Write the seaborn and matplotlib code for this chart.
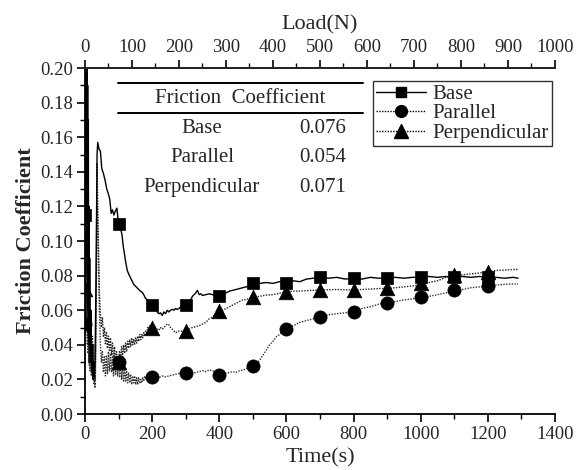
import numpy as np
import pandas as pd
import matplotlib
matplotlib.use("Agg")
import matplotlib.pyplot as plt
from matplotlib.lines import Line2D
from matplotlib.ticker import MultipleLocator, FormatStrFormatter
import seaborn as sns

# ---------------- data ----------------
base_t = [0, 1, 2, 3, 4, 5, 6, 7, 8, 9, 10, 11, 12, 13, 14, 16, 18, 20, 22, 24, 26, 28, 30, 33, 36, 38,
          42, 46, 50, 55, 60, 65, 70, 74, 78, 82, 86, 90, 95,
          100, 105, 110, 114, 118, 122, 126, 130, 135, 140, 145, 150, 155, 160, 165, 170, 175, 180, 185, 190, 195,
          200, 205, 210, 215, 220, 225, 230, 235, 240, 245, 250, 255, 260, 265, 270, 275, 280, 285, 290, 295,
          300, 310, 315, 320, 325, 330, 335, 340, 345, 350, 360, 370, 380, 390,
          400, 410, 420, 430, 440, 450, 460, 470, 480, 490, 500, 520, 540, 560, 580, 600, 620, 640, 660, 680,
          700, 725, 750, 775, 800, 825, 850, 875, 900, 925, 950, 975, 1000, 1025, 1050, 1075, 1100, 1125,
          1150, 1175, 1200, 1225, 1250, 1275, 1290]
base_v = [0.115, 0.20, 0.20, 0.12, 0.20, 0.09, 0.20, 0.08, 0.19, 0.06, 0.17, 0.05, 0.12, 0.04, 0.09,
          0.03, 0.06, 0.025, 0.04, 0.02, 0.03, 0.022, 0.03, 0.08, 0.150, 0.157,
          0.153, 0.152, 0.142, 0.139, 0.135, 0.130, 0.127, 0.124, 0.116, 0.118, 0.115, 0.117, 0.119,
          0.110, 0.108, 0.104, 0.097, 0.092, 0.087, 0.083, 0.081, 0.079, 0.077, 0.075, 0.074, 0.073, 0.072,
          0.071, 0.0705, 0.069, 0.067, 0.066, 0.064, 0.063,
          0.063, 0.062, 0.061, 0.059, 0.058, 0.0585, 0.057, 0.059, 0.058, 0.060, 0.059, 0.060, 0.0605, 0.060,
          0.061, 0.0605, 0.061, 0.062, 0.0615, 0.062,
          0.063, 0.064, 0.066, 0.068, 0.069, 0.070, 0.0715, 0.069, 0.0695, 0.0685, 0.069, 0.0695, 0.069, 0.0685,
          0.068, 0.069, 0.070, 0.071, 0.0715, 0.072, 0.0725, 0.073, 0.0735, 0.074, 0.0755, 0.0755, 0.076,
          0.0755, 0.0765, 0.076, 0.077, 0.0765, 0.078, 0.0785,
          0.079, 0.0785, 0.079, 0.078, 0.0785, 0.078, 0.079, 0.0785, 0.0785, 0.079, 0.0785, 0.079, 0.079,
          0.0795, 0.079, 0.0795, 0.079, 0.0795, 0.079, 0.0795, 0.079, 0.079, 0.0785, 0.079, 0.0785]

par_t = [0, 1, 2, 3, 4, 5, 6, 7, 8, 9, 10, 11, 12, 13, 14, 15, 17, 19, 21, 23, 25, 27, 29, 31, 33, 35, 37,
         40, 43, 46, 49, 52, 55, 58, 61, 64, 67, 70, 73, 76, 79, 82, 85, 88, 91, 94, 97, 100, 103, 106, 109,
         112, 115, 118, 121, 124, 127, 130, 133, 136, 139, 142, 145, 148, 151, 154, 157, 160, 163, 166, 169,
         172, 175, 178, 181, 184, 187, 190, 193, 196,
         200, 210, 220, 230, 240, 250, 260, 270, 280, 290, 300, 310,
         320, 330, 340, 350, 360, 370, 380, 390, 400, 410, 420, 430, 440, 450, 460, 470, 480, 490, 500, 510,
         520, 530, 540, 550, 560, 570, 580, 590, 600, 620, 640, 660, 680, 700, 725, 750, 775, 800, 825, 850,
         875, 900, 925, 950, 975, 1000, 1025, 1050, 1075, 1100, 1125, 1150, 1175, 1200, 1225, 1250, 1275, 1290]
par_v = [0.052, 0.09, 0.12, 0.07, 0.11, 0.05, 0.09, 0.04, 0.08, 0.035, 0.07, 0.03, 0.06, 0.028, 0.05, 0.025,
         0.04, 0.022, 0.035, 0.02, 0.03, 0.017, 0.022, 0.02, 0.05, 0.10, 0.12,
         0.09, 0.06, 0.04, 0.030, 0.036, 0.024, 0.033, 0.022, 0.034, 0.023, 0.036, 0.025, 0.035, 0.024, 0.033,
         0.022, 0.034, 0.023, 0.031, 0.022, 0.030, 0.021, 0.030, 0.020, 0.028, 0.019, 0.027, 0.019, 0.025,
         0.018, 0.024, 0.018, 0.023, 0.017, 0.022, 0.018, 0.022, 0.017, 0.021, 0.017, 0.021, 0.0175, 0.020,
         0.018, 0.021, 0.019, 0.022, 0.020, 0.022, 0.021, 0.0225, 0.021, 0.022,
         0.0216, 0.0215, 0.021, 0.022,
         0.0215, 0.022, 0.0225, 0.023, 0.0235, 0.023, 0.0235, 0.024, 0.0235, 0.024, 0.0245, 0.025, 0.0245,
         0.0255, 0.025, 0.024, 0.0225, 0.023, 0.0235, 0.024, 0.0245, 0.024, 0.025, 0.0255, 0.026, 0.027,
         0.0277, 0.029, 0.031, 0.034, 0.037, 0.040, 0.042, 0.0447, 0.046, 0.048, 0.049, 0.051, 0.053, 0.054,
         0.055, 0.0563, 0.0573, 0.058, 0.0585, 0.0591, 0.061, 0.062, 0.0635, 0.0644, 0.065, 0.066, 0.0665,
         0.0674, 0.068, 0.069, 0.070, 0.0717, 0.072, 0.073, 0.0735, 0.0740, 0.0745, 0.075, 0.0752, 0.0751]

perp_t = [0, 1, 2, 3, 4, 5, 6, 8, 10, 12, 14, 16, 18, 20, 22, 24, 26, 28, 30, 32, 34, 36, 38,
          40, 43, 46, 49, 52, 55, 58, 61, 64, 67, 70, 73, 76, 79, 82, 85, 88, 91, 94, 97, 100, 103, 106, 109,
          112, 115, 118, 121, 124, 127, 130, 133, 136, 139, 142, 145, 148, 151, 154, 157, 160, 163, 166, 169,
          172, 175, 178, 181, 184, 187, 190, 193, 196,
          200, 205, 210, 215, 220, 225, 230, 235, 240, 245, 250, 255, 260, 265, 270, 275,
          280, 290, 300, 310, 320, 330, 340, 350, 360, 370, 380, 390, 400, 410, 420, 430, 440, 450, 460, 470,
          480, 490, 500, 520, 540, 560, 580, 600, 625, 650, 675, 700, 725, 750, 775, 800, 825, 850, 875, 900,
          925, 950, 975, 1000, 1025, 1050, 1075, 1100, 1125, 1150, 1175, 1200, 1225, 1250, 1275, 1290]
perp_v = [0.072, 0.05, 0.08, 0.055, 0.075, 0.05, 0.07, 0.045, 0.065, 0.04, 0.06, 0.035, 0.05, 0.03, 0.045,
          0.025, 0.04, 0.02, 0.015, 0.04, 0.09, 0.145, 0.12,
          0.10, 0.07, 0.058, 0.05, 0.056, 0.045, 0.050, 0.040, 0.047, 0.038, 0.045, 0.036, 0.044, 0.034, 0.041,
          0.031, 0.039, 0.029, 0.036, 0.028, 0.030, 0.036, 0.031, 0.039, 0.033, 0.040, 0.035, 0.041, 0.036,
          0.042, 0.038, 0.043, 0.039, 0.044, 0.040, 0.043, 0.040, 0.044, 0.041, 0.045, 0.042, 0.046, 0.043,
          0.046, 0.044, 0.047, 0.045, 0.048, 0.047, 0.050, 0.049, 0.051, 0.050,
          0.0495, 0.051, 0.050, 0.049, 0.0485, 0.050, 0.049,
          0.050, 0.051, 0.052, 0.0515, 0.050, 0.049, 0.048, 0.047, 0.0475, 0.048, 0.0478, 0.0482, 0.049,
          0.050, 0.0505, 0.051, 0.052, 0.053, 0.055, 0.056, 0.058, 0.0597, 0.060, 0.061, 0.062, 0.063, 0.064,
          0.065, 0.066, 0.066, 0.067, 0.0674, 0.068, 0.0688, 0.069, 0.0698, 0.0707, 0.071, 0.0712, 0.0715,
          0.0717, 0.0718, 0.072, 0.0718, 0.0717, 0.072, 0.0722, 0.0725, 0.0727, 0.073, 0.0735, 0.074, 0.0745,
          0.076, 0.077, 0.079, 0.080, 0.0805, 0.081, 0.0815, 0.082, 0.083, 0.0832, 0.0835, 0.0836]

mark_t = [0, 100, 200, 300, 400, 500, 600, 700, 800, 900, 1000, 1100, 1200]
base_m = [0.115, 0.110, 0.063, 0.063, 0.068, 0.0755, 0.076, 0.079, 0.0785, 0.0785, 0.079, 0.079, 0.079]
par_m = [0.052, 0.030, 0.0216, 0.0235, 0.0225, 0.0277, 0.049, 0.0563, 0.0591, 0.0644, 0.0674, 0.0717, 0.0740]
perp_m = [0.072, 0.030, 0.0495, 0.0482, 0.0597, 0.0674, 0.0707, 0.0717, 0.0717, 0.0727, 0.076, 0.0803, 0.082]

series = ["Base", "Parallel", "Perpendicular"]
avg_cof = ["0.076", "0.054", "0.071"]
load_ticks = [0, 100, 200, 300, 400, 500, 600, 700, 800, 900, 1000]

# ---------------- style ----------------
sns.set_style("ticks")
plt.rcParams["font.family"] = ["Liberation Serif", "DejaVu Serif"]

fig = plt.figure(figsize=(5.84, 4.70), dpi=100)
ax = fig.add_axes([0.1455, 0.1191, 0.8048, 0.7362])

styles = {
    "Base": dict(ls="-", lw=1.0, color="black", marker="s", ms=8.5),
    "Parallel": dict(ls=(0, (1, 1)), lw=1.0, color="#333333", marker="o", ms=9.5),
    "Perpendicular": dict(ls=(0, (1, 1)), lw=1.0, color="#222222", marker="^", ms=10.5),
}
traces = {"Base": (base_t, base_v, base_m), "Parallel": (par_t, par_v, par_m),
          "Perpendicular": (perp_t, perp_v, perp_m)}

for name in ["Parallel", "Perpendicular", "Base"]:
    t, v, m = traces[name]
    st = styles[name]
    sns.lineplot(x=t, y=v, ax=ax, color=st["color"], linewidth=st["lw"], linestyle=st["ls"],
                 estimator=None, sort=False)
    sns.scatterplot(x=mark_t, y=m, ax=ax, marker=st["marker"], s=st["ms"] ** 2, color="black",
                    edgecolor="black", linewidth=0.5, zorder=5)

TICK_FS = 13.5
LABEL_FS = 16
TEXT_FS = 15

ax.set_xlim(0, 1400)
ax.set_ylim(0, 0.20)
ax.xaxis.set_major_locator(MultipleLocator(200))
ax.xaxis.set_minor_locator(MultipleLocator(100))
ax.yaxis.set_major_locator(MultipleLocator(0.02))
ax.yaxis.set_minor_locator(MultipleLocator(0.01))
ax.yaxis.set_major_formatter(FormatStrFormatter("%.2f"))
ax.tick_params(which="major", direction="out", length=6, width=1.2, labelsize=TICK_FS, color="black", pad=2.5)
ax.tick_params(which="minor", direction="out", length=3.5, width=1.0, color="black")
ax.set_xlabel("Time(s)", fontsize=LABEL_FS, labelpad=4)
ax.set_ylabel("Friction Coefficient", fontsize=LABEL_FS, fontweight="bold", labelpad=3)
for s in ["left", "bottom", "top"]:
    ax.spines[s].set_linewidth(1.3)
    ax.spines[s].set_color("black")
ax.spines["right"].set_visible(False)

# top axis: Load
ax2 = ax.twiny()
ax2.set_xlim(0, 1000)
ax2.set_xticks(load_ticks)
ax2.xaxis.set_minor_locator(MultipleLocator(50))
ax2.tick_params(which="major", direction="out", length=6, width=1.2, labelsize=TICK_FS, color="black", pad=2.5)
ax2.tick_params(which="minor", direction="out", length=3.5, width=1.0, color="black")
ax2.set_xlabel("Load(N)", fontsize=LABEL_FS, labelpad=7)
for s in ["left", "right", "bottom"]:
    ax2.spines[s].set_visible(False)
ax2.spines["top"].set_linewidth(1.3)

# table
ax.plot([0.070, 0.591], [0.957, 0.957], transform=ax.transAxes, color="black", lw=1.4, clip_on=False)
ax.plot([0.070, 0.591], [0.870, 0.870], transform=ax.transAxes, color="black", lw=1.4, clip_on=False)
ax.text(0.330, 0.913, "Friction  Coefficient", transform=ax.transAxes, ha="center", va="center", fontsize=TEXT_FS)
row_y = [0.824, 0.740, 0.656]
for name, val, y in zip(series, avg_cof, row_y):
    ax.text(0.249, y, name, transform=ax.transAxes, ha="center", va="center", fontsize=TEXT_FS)
    ax.text(0.506, y, val, transform=ax.transAxes, ha="center", va="center", fontsize=TEXT_FS)

# legend
handles = [Line2D([0], [0], color="black", ls=styles[n]["ls"], lw=1.0, marker=styles[n]["marker"],
                  ms=styles[n]["ms"] - 1, mfc="black", mec="black") for n in series]
leg = ax.legend(handles, series, loc="upper left", bbox_to_anchor=(0.613, 0.962), frameon=True,
                fancybox=False, edgecolor="black", fontsize=TEXT_FS, handlelength=2.4, handletextpad=0.3,
                labelspacing=0.0, borderpad=0.15, borderaxespad=0)
leg.get_frame().set_linewidth(1.0)

fig.savefig("out.png", dpi=100, facecolor="white")
